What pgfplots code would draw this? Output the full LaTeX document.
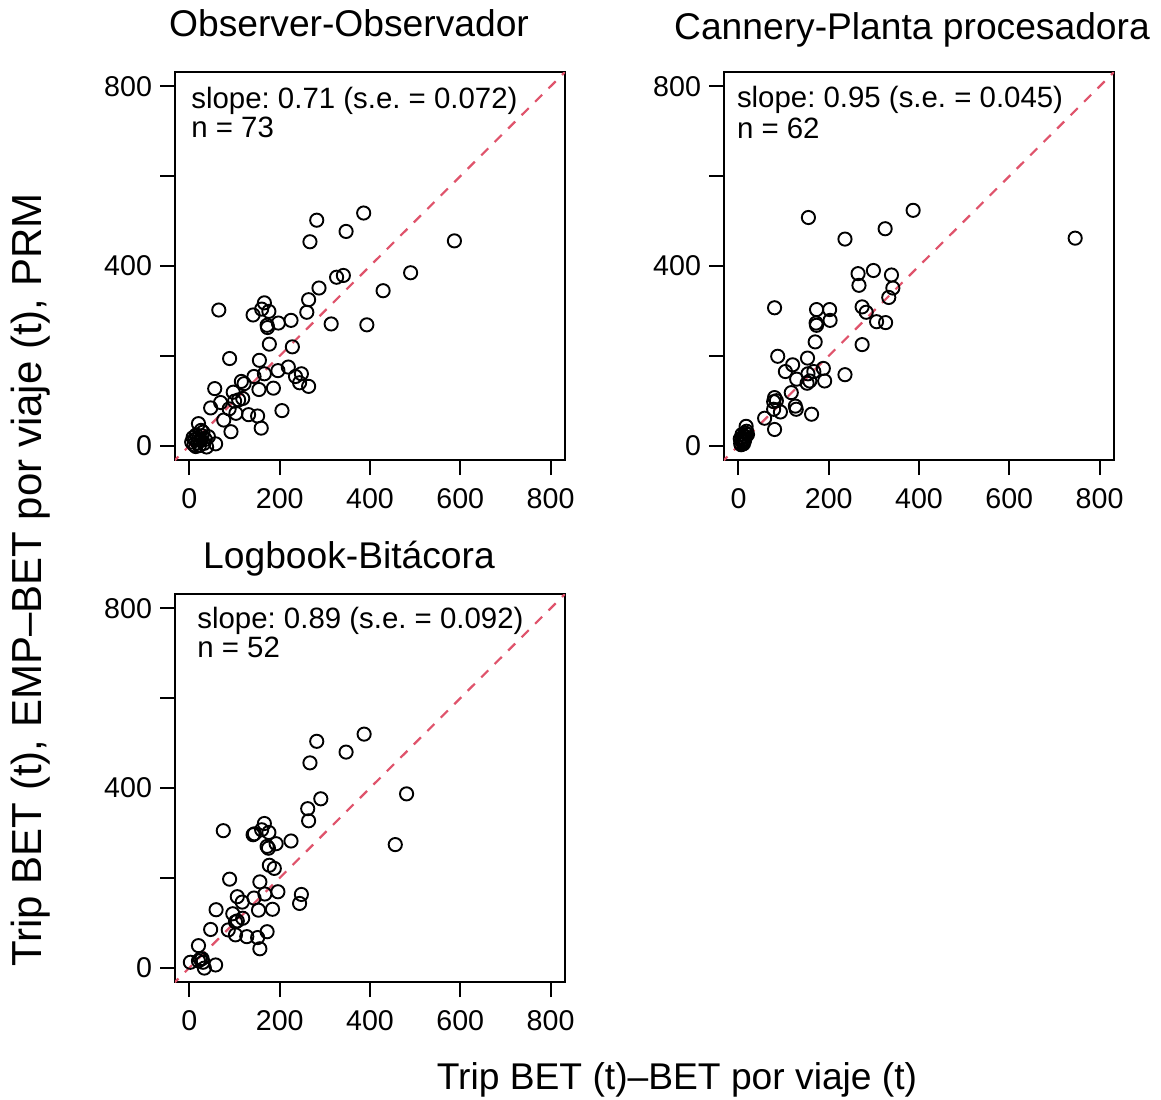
\documentclass[border=0pt]{standalone}
\usepackage{fontspec}
\setmainfont{Liberation Sans}
\usepackage{pgfplots}
\usepackage{pgfplotstable}
\pgfplotsset{compat=1.18}
\definecolor{rred}{HTML}{DF536B}
\frenchspacing

\pgfplotstableread{
x y
386 518
282 502
347 477
267 454
587 456
490 385
326 375
341 379
287 351
429 345
264 325
65 302
166 318
160 304
176 299
141 291
260 297
225 279
197 273
172 268
173 263
314 271
393 269
177 226
228 220
89 194
155 190
196 167
219 175
166 160
143 154
235 154
248 160
244 140
264 132
115 143
121 138
186 128
154 125
56 127
97 119
118 105
69 96
100 99
109 102
47 84
88 82
103 72
131 69
151 66
205 78
76 57
159 39
92 31
20 49
58 4
38 -3
5 8
8 18
10 2
12 14
15 24
18 6
20 16
22 0
25 12
28 22
30 30
32 5
35 14
14 -2
42 20
26 34
}\obs

\pgfplotstableread{
x y
387 524
155 508
325 483
236 460
746 462
299 390
265 383
339 380
267 357
342 351
333 330
80 307
173 303
202 303
274 309
283 297
306 276
326 274
172 273
203 279
173 268
170 231
274 225
87 199
153 195
120 180
188 172
104 165
154 160
167 165
129 148
158 144
191 144
236 158
152 139
117 118
80 107
84 100
78 98
126 88
128 81
93 75
78 81
162 70
58 61
80 36
5 5
7 12
9 18
10 8
12 22
14 14
15 28
17 43
6 2
8 25
11 4
13 10
16 20
18 32
4 15
20 25
}\can

\pgfplotstableread{
x y
387 520
282 504
347 480
267 456
481 387
291 376
262 354
264 327
75 305
166 321
141 296
144 298
160 307
176 301
456 274
225 282
192 276
172 270
175 266
177 228
188 221
89 197
156 191
196 169
167 164
106 158
143 155
248 163
244 143
117 146
59 129
153 128
184 130
96 120
118 110
102 102
106 104
47 85
86 84
172 80
102 73
127 69
151 67
156 42
20 49
2 12
24 19
28 20
33 -1
58 6
20 15
30 12
}\logb

\pgfplotsset{rpanel/.style={
  anchor=south west, scale only axis, width=195pt, height=194pt,
  xmin=-32, xmax=832, ymin=-32, ymax=832,
  axis line style={line width=1pt},
  xtick={0,200,...,800}, ytick={0,200,...,800},
  xticklabels={0,200,400,600,800}, yticklabels={0,,400,,800},
  tick align=outside, major tick length=7.5pt,
  tick style={line width=1pt, black},
  xtick pos=bottom, ytick pos=left,
  /pgf/number format/assume math mode=true,
  tick label style={font=\fontsize{14.3}{15}\selectfont},
  xticklabel style={yshift=-3pt},
  yticklabel style={xshift=-0.5pt},
  clip=true,
}}
\pgfplotsset{rpts/.style={only marks, mark=o, mark size=3.3pt, mark options={line width=0.95pt, black}}}
\pgfplotsset{rline/.style={rred, line width=1.1pt, dash pattern=on 5pt off 4.5pt}}

\begin{document}
\begin{tikzpicture}
\useasboundingbox (0,0) rectangle (580.5pt,-549.5pt);

\begin{axis}[rpanel, at={(87.5pt,-230pt)}]
\addplot[rpts] table[x=x,y=y] {\obs};
\addplot[rline] coordinates {(-40,-40) (840,840)};
\end{axis}

\begin{axis}[rpanel, at={(362pt,-230pt)}]
\addplot[rpts] table[x=x,y=y] {\can};
\addplot[rline] coordinates {(-40,-40) (840,840)};
\end{axis}

\begin{axis}[rpanel, at={(87.5pt,-491pt)}]
\addplot[rpts] table[x=x,y=y] {\logb};
\addplot[rline] coordinates {(-40,-40) (840,840)};
\end{axis}

\node[anchor=base west, font=\fontsize{14.7}{15}\selectfont, inner sep=0pt] at (95.5pt,-54pt) {slope: 0.71 (s.e. = 0.072)};
\node[anchor=base west, font=\fontsize{14.7}{15}\selectfont, inner sep=0pt] at (95.5pt,-68.5pt) {n = 73};
\node[anchor=base west, font=\fontsize{14.7}{15}\selectfont, inner sep=0pt] at (368.3pt,-53.5pt) {slope: 0.95 (s.e. = 0.045)};
\node[anchor=base west, font=\fontsize{14.7}{15}\selectfont, inner sep=0pt] at (368.3pt,-69pt) {n = 62};
\node[anchor=base west, font=\fontsize{14.7}{15}\selectfont, inner sep=0pt] at (98.5pt,-314pt) {slope: 0.89 (s.e. = 0.092)};
\node[anchor=base west, font=\fontsize{14.7}{15}\selectfont, inner sep=0pt] at (98.5pt,-328.5pt) {n = 52};

\node[anchor=base, font=\fontsize{18.6}{20}\selectfont, inner sep=0pt] at (174.5pt,-18pt) {Observer-Observador};
\node[anchor=base, font=\fontsize{18.6}{20}\selectfont, inner sep=0pt] at (456pt,-19.75pt) {Cannery-Planta procesadora};
\node[anchor=base, font=\fontsize{18.6}{20}\selectfont, inner sep=0pt] at (174.5pt,-284pt) {Logbook-Bitácora};

\node[rotate=90, font=\fontsize{21}{22}\selectfont, inner sep=0pt] at (15.5pt,-290pt) {Trip BET (t), EMP–BET por viaje (t), PRM};
\node[font=\fontsize{18.6}{20}\selectfont, inner sep=0pt] at (338.5pt,-540pt) {Trip BET (t)–BET por viaje (t)};
\end{tikzpicture}
\end{document}
